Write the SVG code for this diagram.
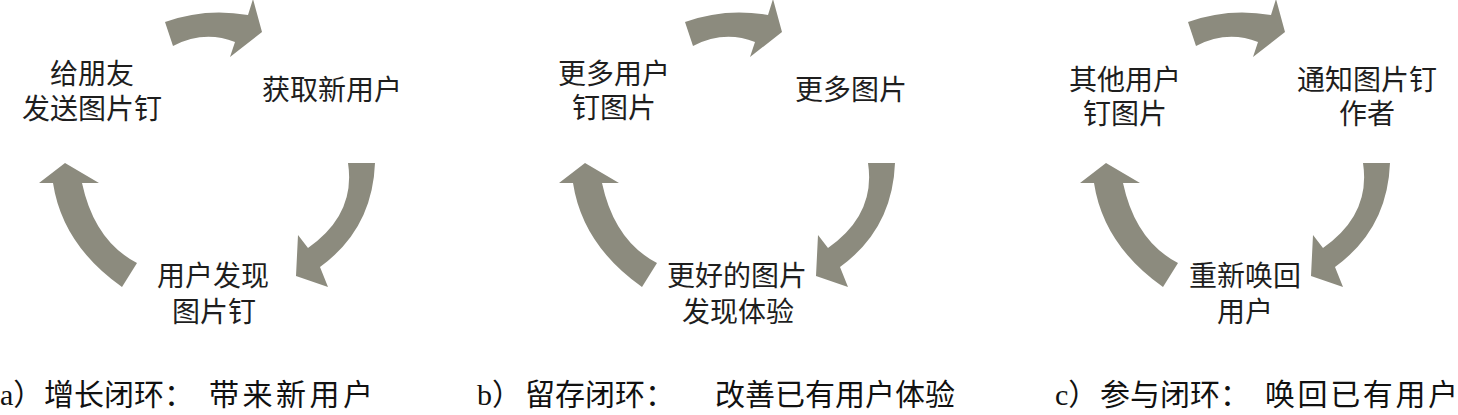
<svg xmlns="http://www.w3.org/2000/svg" xmlns:xlink="http://www.w3.org/1999/xlink" width="1458" height="415" viewBox="0 0 1458 415">
<style>
.lbl{font-family:"Noto Sans CJK SC","Noto Sans",sans-serif;font-size:28px;fill:#1e1e1e;text-anchor:middle}
.cap{font-family:"Liberation Serif","Noto Sans CJK SC",serif;font-size:30px;fill:#111}
.arr{fill:#8c8b7e}
</style>
<defs>
<path id="arTop" class="arr" d="M165,22 Q205,7.5 248,15 L253,-1 L262,32 L230,57 L235,42 Q204,30 173,46 Z"/>
<path id="arRight" class="arr" d="M348,163 L375,163 Q372.5,229 320,267 L328,287 L296,276 L298,235 L308,248 Q356,214.5 348,163 Z"/>
<path id="arLeft" class="arr" d="M122,287 Q62.5,245 53,183 L39,183 L65,163 L99,183 L82,183 Q94.5,241 137,263 Z"/>
</defs>
<rect width="1458" height="415" fill="#fff"/>
<g id="connectors">
<use xlink:href="#arTop"/>
<use xlink:href="#arRight"/>
<use xlink:href="#arLeft"/>
<use xlink:href="#arTop" transform="translate(520,0)"/>
<use xlink:href="#arRight" transform="translate(520,0)"/>
<use xlink:href="#arLeft" transform="translate(520,0)"/>
<use xlink:href="#arTop" transform="translate(1023,0)"/>
<use xlink:href="#arRight" transform="translate(1015,0)"/>
<use xlink:href="#arLeft" transform="translate(1041,0)"/>
</g>
<g id="a-share"><text class="lbl"><tspan x="92" y="84">给朋友</tspan><tspan x="92" y="119">发送图片钉</tspan></text></g>
<g id="a-newusers"><text class="lbl" x="332" y="100">获取新用户</text></g>
<g id="a-discover"><text class="lbl"><tspan x="213" y="286">用户发现</tspan><tspan x="214" y="322">图片钉</tspan></text></g>
<g id="b-morepins"><text class="lbl"><tspan x="614" y="84">更多用户</tspan><tspan x="614" y="118">钉图片</tspan></text></g>
<g id="b-moreimgs"><text class="lbl" x="851" y="100">更多图片</text></g>
<g id="b-better"><text class="lbl"><tspan x="737" y="286">更好的图片</tspan><tspan x="738" y="322">发现体验</tspan></text></g>
<g id="c-others"><text class="lbl"><tspan x="1125" y="90">其他用户</tspan><tspan x="1125" y="124">钉图片</tspan></text></g>
<g id="c-notify"><text class="lbl"><tspan x="1367" y="90">通知图片钉</tspan><tspan x="1367" y="124">作者</tspan></text></g>
<g id="c-reengage"><text class="lbl"><tspan x="1245" y="286">重新唤回</tspan><tspan x="1245" y="322">用户</tspan></text></g>
<g id="captions">
<text class="cap" y="405"><tspan x="0">a）</tspan><tspan x="44">增长闭环：</tspan><tspan x="209" textLength="164" lengthAdjust="spacing">带来新用户</tspan></text>
<text class="cap" y="405"><tspan x="477">b）</tspan><tspan x="525">留存闭环：</tspan><tspan x="715">改善已有用户体验</tspan></text>
<text class="cap" y="405"><tspan x="1055">c）</tspan><tspan x="1100">参与闭环：</tspan><tspan x="1265" textLength="193" lengthAdjust="spacing">唤回已有用户</tspan></text>
</g>
</svg>
